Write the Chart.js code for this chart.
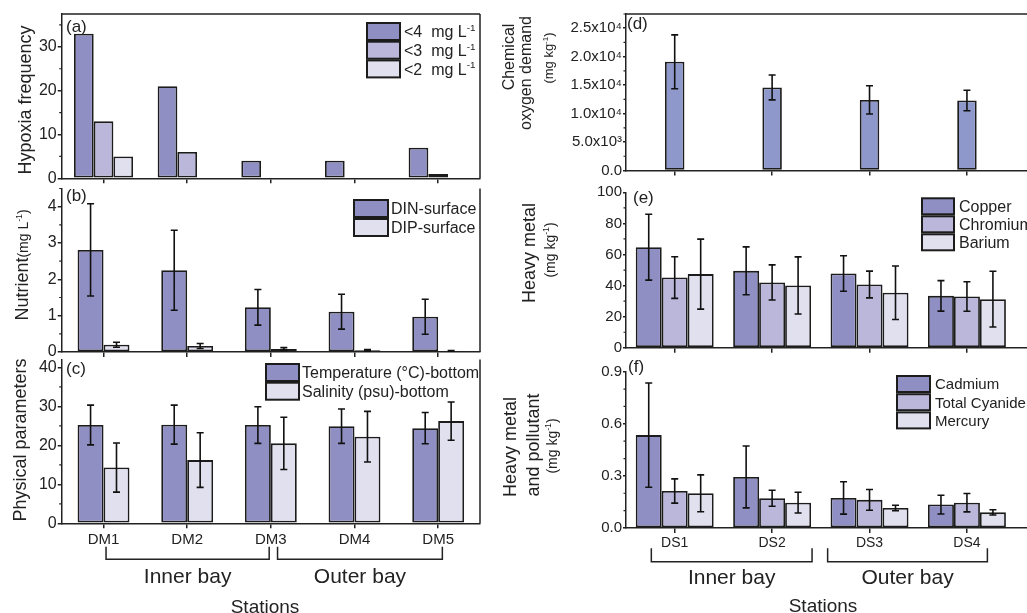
<!DOCTYPE html>
<html>
<head>
<meta charset="utf-8">
<script src="https://cdn.jsdelivr.net/npm/chart.js@4.4.1/dist/chart.umd.min.js"></script>
<style>
  html, body { margin: 0; padding: 0; background: #fff; }
  #wrap { position: relative; width: 1027px; height: 613px; overflow: hidden; background: #fff; }
  #wrap canvas { position: absolute; left: 0; top: 0; }
</style>
</head>
<body>
<div id="wrap">
  <canvas id="pa" width="1060" height="613"></canvas>
  <canvas id="pb" width="1060" height="613"></canvas>
  <canvas id="pc" width="1060" height="613"></canvas>
  <canvas id="pd" width="1060" height="613"></canvas>
  <canvas id="pe" width="1060" height="613"></canvas>
  <canvas id="pf" width="1060" height="613"></canvas>
</div>
<script>
// ---- Stations ----
const dmStations = ['DM1', 'DM2', 'DM3', 'DM4', 'DM5'];
const dsStations = ['DS1', 'DS2', 'DS3', 'DS4'];
const bays = ['Inner bay', 'Outer bay'];

// ---- (a) hypoxia frequency ----
const hypoxia4 = [33, 21, 4, 4, 7];
const hypoxia3 = [13, 6, 0, 0, 1];
const hypoxia2 = [5, 0, 0, 0, 0];
const hypoxiaTicks = [0, 10, 20, 30];

// ---- (b) nutrients ----
const din = [2.81, 2.25, 1.23, 1.11, 0.97];
const dinErr = [1.27, 1.10, 0.49, 0.48, 0.48];
const dip = [0.20, 0.165, 0.08, 0.045, 0.03];
const dipErr = [0.07, 0.07, 0.04, 0.02, 0.01];
const nutrientTicks = [0, 1, 2, 3, 4];

// ---- (c) bottom physical parameters ----
const tempBottom = [25.2, 25.3, 25.2, 24.9, 24.4];
const tempErr = [5.1, 5.0, 4.7, 4.4, 4.0];
const salBottom = [14.3, 16.2, 20.5, 22.2, 26.2];
const salErr = [6.3, 7.0, 6.7, 6.5, 4.9];
const physTicks = [0, 10, 20, 30, 40];

// ---- (d) COD ----
const cod = [19100, 14600, 12400, 12300];
const codErr = [4730, 2190, 2480, 1810];
const codTicks = [0, 5000, 10000, 15000, 20000, 25000];
const codTickLabels = ['0.0', '5.0x10³', '1.0x10⁴', '1.5x10⁴', '2.0x10⁴', '2.5x10⁴'];

// ---- (e) heavy metals ----
const copper = [64.7, 49.5, 47.8, 33.4];
const copperErr = [21.2, 15.4, 11.4, 9.8];
const chromium = [45.2, 42.0, 40.7, 33.0];
const chromiumErr = [13.4, 11.3, 8.6, 9.5];
const barium = [47.4, 40.1, 35.4, 31.3];
const bariumErr = [22.5, 18.4, 17.2, 17.9];
const metalTicks = [0, 20, 40, 60, 80, 100];

// ---- (f) heavy metal and pollutant ----
const cadmium = [0.535, 0.294, 0.173, 0.135];
const cadmiumErr = [0.30, 0.178, 0.093, 0.054];
const cyanide = [0.213, 0.171, 0.162, 0.146];
const cyanideErr = [0.07, 0.046, 0.06, 0.053];
const mercury = [0.200, 0.146, 0.115, 0.090];
const mercuryErr = [0.106, 0.06, 0.016, 0.015];
const pollutantTicks = [0, 0.3, 0.6, 0.9];
const pollutantTickLabels = ['0.0', '0.3', '0.6', '0.9'];

// ---- style ----
const FONT = '"Liberation Sans", Arial, sans-serif';
const INK = '#222';
const EDGE = '#1c1c1c';
const DARK = '#908fc3';
const MID = '#bab7da';
const LIGHT = '#e1e0ef';
const COD_BLUE = '#8f98cb';
const W = 1060, H = 613;

// "L^{-1}" -> superscript run
function runsOf(str, size) {
  const out = [];
  str.split(/(\^\{[^}]*\})/).forEach(s => {
    if (!s) return;
    if (s.startsWith('^{')) out.push({ t: s.slice(2, -1), size: size * 0.62, dy: -size * 0.4 });
    else out.push({ t: s, size: size, dy: 0 });
  });
  return out;
}

function drawRich(ctx, runs, x, baseY, align) {
  let w = 0;
  runs.forEach(r => { ctx.font = r.size + 'px ' + FONT; r.w = ctx.measureText(r.t).width; w += r.w; });
  let cx = align === 'center' ? x - w / 2 : x;
  ctx.textAlign = 'left';
  ctx.textBaseline = 'alphabetic';
  runs.forEach(r => {
    ctx.font = r.size + 'px ' + FONT;
    ctx.fillText(r.t, cx, baseY + r.dy);
    cx += r.w;
  });
}

// per-canvas extras: frame, minor ticks, error bars, legend, titles, bay brackets
const decor = {};
const decorPlugin = {
  id: 'decor',
  afterDatasetsDraw(chart) {
    const d = decor[chart.canvas.id];
    const ctx = chart.ctx;
    const a = chart.chartArea;
    const xs = chart.scales.x, ys = chart.scales.y;
    ctx.save();
    ctx.strokeStyle = INK;
    ctx.fillStyle = INK;
    ctx.lineWidth = 1.5;

    ctx.beginPath();
    if (d.frameTop) { ctx.moveTo(a.left, a.top); ctx.lineTo(a.right, a.top); }
    if (d.frameRight) { ctx.moveTo(a.right, a.top); ctx.lineTo(a.right, a.bottom); }
    ctx.stroke();

    // minor ticks on the value axis
    ctx.lineWidth = 1.2;
    ctx.beginPath();
    for (let k = 0; k * d.minor <= ys.max + 1e-9; k++) {
      const v = k * d.minor;
      if (ys.ticks.some(t => Math.abs(t.value - v) < 1e-9)) continue;
      const py = ys.getPixelForValue(v);
      ctx.moveTo(a.left, py);
      ctx.lineTo(a.left - 2.5, py);
    }
    ctx.stroke();

    // error bars
    ctx.lineWidth = 1.6;
    ctx.strokeStyle = '#111';
    ctx.beginPath();
    chart.data.datasets.forEach((ds, i) => {
      if (!ds.errors) return;
      chart.getDatasetMeta(i).data.forEach((bar, j) => {
        const raw = ds.data[j];
        const val = typeof raw === 'number' ? raw : raw.y;
        const hi = ys.getPixelForValue(val + ds.errors[j]);
        const lo = ys.getPixelForValue(val - ds.errors[j]);
        const cap = 3.5;
        ctx.moveTo(bar.x, hi); ctx.lineTo(bar.x, lo);
        ctx.moveTo(bar.x - cap, hi); ctx.lineTo(bar.x + cap, hi);
        ctx.moveTo(bar.x - cap, lo); ctx.lineTo(bar.x + cap, lo);
      });
    });
    ctx.stroke();

    // legend boxes
    if (d.legend) {
      const L = d.legend;
      chart.data.datasets.forEach((ds, i) => {
        const y = L.y + i * L.pitch;
        ctx.fillStyle = ds.backgroundColor;
        ctx.fillRect(L.x, y, L.w, L.h);
        ctx.lineWidth = 2;
        ctx.strokeStyle = EDGE;
        ctx.strokeRect(L.x, y, L.w, L.h);
        ctx.fillStyle = INK;
        drawRich(ctx, runsOf(ds.label, L.size), L.tx, y + L.h / 2 + L.size * 0.36, 'left');
      });
    }

    // panel letter
    ctx.fillStyle = INK;
    drawRich(ctx, runsOf(d.tag.text, 17), d.tag.x, d.tag.y + 17 * 0.36, 'left');

    // rotated axis titles (x = baseline, y = centre)
    d.titles.forEach(t => {
      ctx.save();
      ctx.translate(t.x, t.y);
      ctx.rotate(-Math.PI / 2);
      let runs = [];
      t.parts.forEach(p => { runs = runs.concat(runsOf(p[0], p[1])); });
      drawRich(ctx, runs, 0, 0, 'center');
      ctx.restore();
    });

    // bay brackets under the station labels
    if (d.bays) {
      const B = d.bays;
      ctx.strokeStyle = INK;
      ctx.lineWidth = 1.5;
      ctx.beginPath();
      B.spans.forEach((s, k) => {
        const x0 = xs.getPixelForValue(s[0]), x1 = xs.getPixelForValue(s[1]);
        ctx.moveTo(x0, B.top); ctx.lineTo(x0, B.bottom);
        ctx.lineTo(x1, B.bottom); ctx.lineTo(x1, B.top);
        drawRich(ctx, runsOf(bays[k], B.size), (x0 + x1) / 2, B.labelY + B.size * 0.36, 'center');
      });
      ctx.stroke();
      drawRich(ctx, runsOf('Stations', B.stations.size), B.stations.x, B.stations.y + B.stations.size * 0.36, 'center');
    }
    ctx.restore();
  }
};

function dmAxis(showLabels, xH) {
  return {
    type: 'category', offset: true,
    grid: { offset: false, drawOnChartArea: false, drawTicks: true, tickLength: 5, color: INK, lineWidth: 1.5 },
    border: { display: true, color: INK, width: 1.5 },
    ticks: { display: showLabels, color: INK, font: { family: FONT, size: 15 }, padding: 3, maxRotation: 0, autoSkip: false },
    afterFit: s => { s.height = xH; }
  };
}

function dsAxis(showLabels, xH) {
  return {
    type: 'linear', min: 0.5, max: 4.75, offset: false,
    grid: { offset: false, drawOnChartArea: false, drawTicks: true, tickLength: 5, color: INK, lineWidth: 1.5 },
    border: { display: true, color: INK, width: 1.5 },
    ticks: { display: showLabels, color: INK, font: { family: FONT, size: 14 }, padding: 2, maxRotation: 0, autoSkip: false,
             callback: (v, i) => dsStations[i] },
    afterBuildTicks: s => { s.ticks = dsStations.map((_, i) => ({ value: i + 1 })); },
    afterFit: s => { s.height = xH; }
  };
}

function valueAxis(max, tickVals, tickLabels, size, tickLen, yw) {
  return {
    min: 0, max: max,
    grid: { drawOnChartArea: false, drawTicks: true, tickLength: tickLen, color: INK, lineWidth: 1.5 },
    border: { display: true, color: INK, width: 1.5 },
    ticks: { color: INK, font: { family: FONT, size: size }, padding: 1, callback: (v, i) => tickLabels[i] },
    afterBuildTicks: s => { s.ticks = tickVals.map(v => ({ value: v })); },
    afterFit: s => { s.width = yw; }
  };
}

function bars(label, values, errors, color, catPct, onIndex) {
  return {
    label: label,
    data: onIndex ? values.map((v, i) => ({ x: i + 1, y: v })) : values,
    errors: errors,
    backgroundColor: color,
    borderColor: EDGE,
    borderWidth: 1.8,
    borderSkipped: false,
    categoryPercentage: catPct,
    barPercentage: 1
  };
}

function panel(id, area, xH, yw, labels, datasets, xAxis, yAxis, extra) {
  decor[id] = extra;
  return new Chart(document.getElementById(id), {
    type: 'bar',
    data: { labels: labels, datasets: datasets },
    options: {
      responsive: false,
      animation: false,
      layout: { padding: { left: area.left - yw, right: W - area.right, top: area.top, bottom: H - area.bottom - xH } },
      plugins: { legend: { display: false }, tooltip: { enabled: false } },
      scales: { x: xAxis, y: yAxis }
    },
    plugins: [decorPlugin]
  });
}

const LEFT_YW = 55, RIGHT_YW = 80;

// ---- (a) ----
panel('pa', { left: 61.7, right: 480, top: 14, bottom: 178.3 }, 10, LEFT_YW, dmStations, [
  bars('<4  mg L^{-1}', hypoxia4, null, DARK, 0.706),
  bars('<3  mg L^{-1}', hypoxia3, null, MID, 0.706),
  bars('<2  mg L^{-1}', hypoxia2, null, LIGHT, 0.706)
], dmAxis(false, 10), valueAxis(37.5, hypoxiaTicks, hypoxiaTicks, 16, 4, LEFT_YW), {
  frameTop: true, frameRight: true, minor: 5,
  tag: { text: '(a)', x: 66, y: 26 },
  titles: [{ x: 31, y: 100, parts: [['Hypoxia frequency', 18]] }],
  legend: { x: 367, y: 23, w: 33, h: 17, pitch: 18.7, tx: 404, size: 16 }
});

// ---- (b) ----
panel('pb', { left: 61.7, right: 480, top: 188.5, bottom: 352 }, 10, LEFT_YW, dmStations, [
  bars('DIN-surface', din, dinErr, DARK, 0.62),
  bars('DIP-surface', dip, dipErr, LIGHT, 0.62)
], dmAxis(false, 10), valueAxis(4.5, nutrientTicks, nutrientTicks, 16, 4, LEFT_YW), {
  frameRight: true, minor: 0.5,
  tag: { text: '(b)', x: 66, y: 195 },
  titles: [{ x: 27.5, y: 265, parts: [['Nutrient', 18], ['(mg L^{-1})', 14]] }],
  legend: { x: 354, y: 200, w: 34, h: 17, pitch: 19, tx: 391, size: 16 }
});

// ---- (c) ----
panel('pc', { left: 61.7, right: 480, top: 359.5, bottom: 523.3 }, 89.7, LEFT_YW, dmStations, [
  bars('Temperature (°C)-bottom', tempBottom, tempErr, DARK, 0.62),
  bars('Salinity (psu)-bottom', salBottom, salErr, LIGHT, 0.62)
], dmAxis(true, 89.7), valueAxis(42, physTicks, physTicks, 16, 4, LEFT_YW), {
  frameRight: true, minor: 5,
  tag: { text: '(c)', x: 66, y: 368 },
  titles: [{ x: 26, y: 440, parts: [['Physical parameters', 18]] }],
  legend: { x: 266, y: 364, w: 33, h: 17, pitch: 18.7, tx: 302, size: 16 },
  bays: { spans: [[0.03, 1.98], [2.08, 4.05]], top: 546.7, bottom: 559.3, labelY: 575, size: 21,
          stations: { x: 265, y: 606, size: 19 } }
});

// ---- (d) ----
panel('pd', { left: 626, right: 1040, top: 14, bottom: 170.5 }, 10, RIGHT_YW, null, [
  bars('COD', cod, codErr, COD_BLUE, 0.2, true)
], dsAxis(false, 10), valueAxis(27500, codTicks, codTickLabels, 15, 3, RIGHT_YW), {
  frameTop: true, minor: 2500,
  tag: { text: '(d)', x: 627, y: 23 },
  titles: [
    { x: 514, y: 57, parts: [['Chemical', 16]] },
    { x: 531, y: 73, parts: [['oxygen demand', 16]] },
    { x: 553, y: 58, parts: [['(mg kg^{-1})', 13]] }
  ]
});

// ---- (e) ----
panel('pe', { left: 626, right: 1040, top: 192.3, bottom: 347.8 }, 10, RIGHT_YW, null, [
  bars('Copper', copper, copperErr, DARK, 0.8, true),
  bars('Chromium', chromium, chromiumErr, MID, 0.8, true),
  bars('Barium', barium, bariumErr, LIGHT, 0.8, true)
], dsAxis(false, 10), valueAxis(100, metalTicks, metalTicks, 15, 3, RIGHT_YW), {
  minor: 10,
  tag: { text: '(e)', x: 633, y: 197 },
  titles: [
    { x: 535, y: 253, parts: [['Heavy metal', 18]] },
    { x: 555, y: 250, parts: [['(mg kg^{-1})', 14]] }
  ],
  legend: { x: 922, y: 198.3, w: 32, h: 16, pitch: 18, tx: 959, size: 16 }
});

// ---- (f) ----
panel('pf', { left: 626, right: 1040, top: 371.7, bottom: 528 }, 85, RIGHT_YW, null, [
  bars('Cadmium', cadmium, cadmiumErr, DARK, 0.8, true),
  bars('Total Cyanide', cyanide, cyanideErr, MID, 0.8, true),
  bars('Mercury', mercury, mercuryErr, LIGHT, 0.8, true)
], dsAxis(true, 85), valueAxis(0.9, pollutantTicks, pollutantTickLabels, 15, 3, RIGHT_YW), {
  minor: 0.1,
  tag: { text: '(f)', x: 628, y: 366 },
  titles: [
    { x: 516, y: 447, parts: [['Heavy metal', 18]] },
    { x: 539, y: 445, parts: [['and pollutant', 18]] },
    { x: 557, y: 446, parts: [['(mg kg^{-1})', 14]] }
  ],
  legend: { x: 897, y: 376, w: 33, h: 16, pitch: 18.2, tx: 935, size: 15 },
  bays: { spans: [[0.76, 2.41], [2.57, 4.21]], top: 548.3, bottom: 561.7, labelY: 576, size: 21,
          stations: { x: 823, y: 605, size: 19 } }
});
</script>
</body>
</html>
